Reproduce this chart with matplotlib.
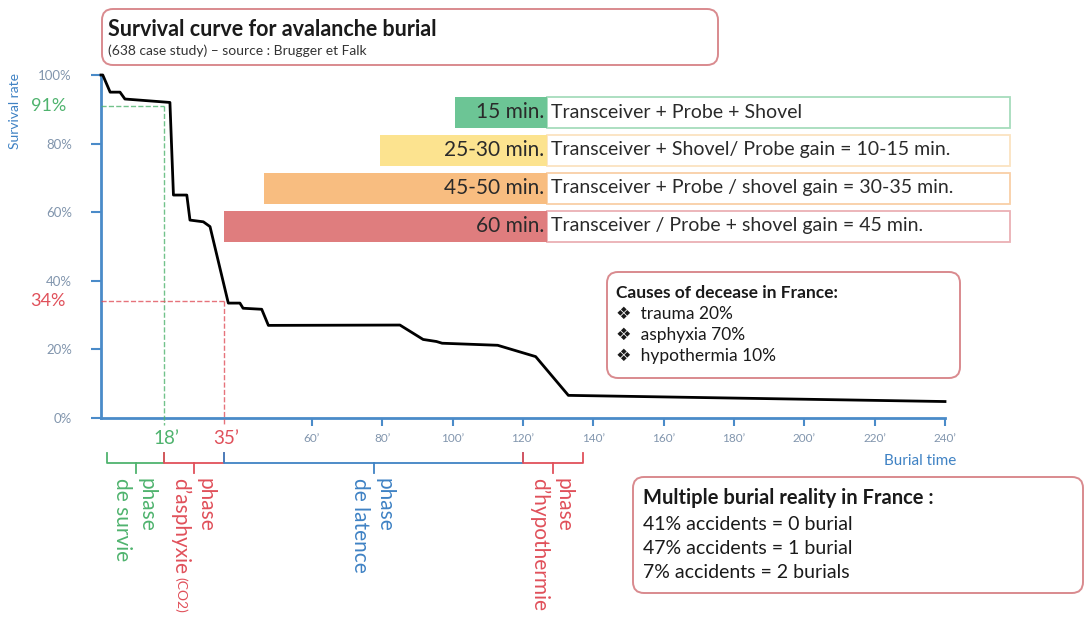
import matplotlib.pyplot as plt
from matplotlib.patches import FancyBboxPatch, Rectangle
from matplotlib.transforms import blended_transform_factory, offset_copy

plt.rcParams['font.family'] = ['Lato', 'DejaVu Sans']

# survival curve (minutes, % alive)
burial_min = [0, 0.5, 2.6, 5.4, 6.8, 19.6, 20.6, 24.4, 25.3, 29.1, 31.0, 36.2,
              39.5, 40.4, 45.7, 47.6, 85.0, 91.6, 95.4, 97.0, 112.8, 123.6, 132.9, 240]
survival_pct = [100, 100, 95, 95, 93, 92, 65, 65, 57.7, 57.2, 55.8, 33.5,
                33.5, 32.0, 31.7, 27.0, 27.1, 22.9, 22.3, 21.8, 21.2, 17.9, 6.6, 4.8]

y_ticks = [0, 20, 40, 60, 80, 100]
y_labels = ['0%', '20%', '40%', '60%', '80%', '100%']
x_ticks = [60, 80, 100, 120, 140, 160, 180, 200, 220, 240]
x_labels = ['60’', '80’', '100’', '120’', '140’', '160’', '180’', '200’', '220’', '240’']

mark_min = [18, 35]
mark_pct = [91, 34]
mark_min_labels = ['18’', '35’']
mark_pct_labels = ['91%', '34%']

phase_first = ['phase', 'phase', 'phase', 'phase']
phase_second = ['de survie', 'd’asphyxie', 'de latence', 'd’hypothermie']
phase_note = ['', '(CO2)', '', '']
phase_start = [1.7, 18, 35, 120]
phase_end = [18, 35, 120, 137]

rescue_time = ['15 min.', '25-30 min.', '45-50 min.', '60 min.']
rescue_kit = ['Transceiver + Probe + Shovel',
              'Transceiver + Shovel/ Probe gain = 10-15 min.',
              'Transceiver + Probe / shovel gain = 30-35 min.',
              'Transceiver / Probe + shovel gain = 45 min.']

causes = ['trauma 20%', 'asphyxia 70%', 'hypothermia 10%']
multi_burial = ['41% accidents = 0 burial', '47% accidents = 1 burial', '7% accidents = 2 burials']

GREEN = '#4fb36e'
RED = '#e0505a'
BLUE = '#3f82c4'
AXBLUE = '#4a8bc9'
TICKGRAY = '#8195ad'
BOXRED = '#d98a8e'

W, H = 1086, 622
L, R, T, B = 101, 945, 75, 418
fig = plt.figure(figsize=(W / 100, H / 100), dpi=100)
ax = fig.add_axes([L / W, (H - B) / H, (R - L) / W, (B - T) / H])
ax.set_facecolor('none')

def yfrac(py):
    return (B - py) / (B - T)

ax.plot(burial_min, survival_pct, color='black', lw=2, clip_on=False, zorder=5)
ax.set_xlim(0, 240)
ax.set_ylim(0, 100)
for s in ['top', 'right']:
    ax.spines[s].set_visible(False)
for s in ['left', 'bottom']:
    ax.spines[s].set_color(AXBLUE)
    ax.spines[s].set_linewidth(2)
ax.set_yticks(y_ticks)
ax.set_yticklabels(y_labels, fontsize=9.5, color=TICKGRAY)
ax.set_xticks(x_ticks)
ax.set_xticklabels(x_labels, fontsize=8.5, color=TICKGRAY)
ax.tick_params(axis='y', length=7, width=1.5, color=AXBLUE, pad=14)
ax.tick_params(axis='x', length=6, width=1.5, color=AXBLUE, pad=5)

bt = blended_transform_factory(ax.transData, ax.transAxes)

# reference lines at 18' / 35'
mark_cols = [GREEN, RED]
for t, p, tl, pl, c in zip(mark_min, mark_pct, mark_min_labels, mark_pct_labels, mark_cols):
    ax.plot([0, t], [p, p], ls='--', lw=1, color=c, alpha=0.8, zorder=3)
    ax.plot([t, t], [p, -2], ls='--', lw=1, color=c, alpha=0.8, zorder=3, clip_on=False)
    ax.text(-10, p, pl, color=c, fontsize=13, ha='right', va='center')
    ax.text(t + 0.5, yfrac(439), tl, color=c, fontsize=13.5, ha='center', va='center',
            transform=bt)

# phase brackets under the axis
phase_cols = [GREEN, RED, BLUE, RED]
right_col = offset_copy(bt, fig=fig, x=11, y=0, units='dots')
left_col = offset_copy(bt, fig=fig, x=-14, y=0, units='dots')
for n1, n2, note, a, b, c in zip(phase_first, phase_second, phase_note,
                                 phase_start, phase_end, phase_cols):
    m = (a + b) / 2
    ax.plot([a, a, b, b], [yfrac(453), yfrac(463), yfrac(463), yfrac(453)],
            color=c, lw=1.3, transform=bt, clip_on=False)
    ax.plot([m, m], [yfrac(463), yfrac(473)], color=c, lw=1.3, transform=bt, clip_on=False)
    ax.text(m, yfrac(478), n1, color=c, fontsize=15, rotation=-90, ha='center', va='top',
            transform=right_col)
    ax.text(m, yfrac(478), n2, color=c, fontsize=15, rotation=-90, ha='center', va='top',
            transform=left_col)
    if note:
        ax.text(m, yfrac(577), note, color=c, fontsize=10, rotation=-90, ha='center',
                va='top', transform=left_col)

fig.text(15 / W, 1 - 111 / H, 'Survival rate', rotation=90, color=BLUE, fontsize=10,
         ha='center', va='center')
fig.text(920 / W, 1 - 461 / H, 'Burial time', color=BLUE, fontsize=11, ha='center', va='center')

# overlay in pixel coordinates for the boxes
ov = fig.add_axes([0, 0, 1, 1])
ov.set_xlim(0, W)
ov.set_ylim(H, 0)
ov.axis('off')

def rbox(x0, y0, x1, y1, ec=BOXRED, r=11):
    ov.add_patch(FancyBboxPatch((x0, y0), x1 - x0, y1 - y0,
                                boxstyle=f'round,pad=0,rounding_size={r}',
                                fc='white', ec=ec, lw=1.4))

rbox(102, 9, 718, 65)
ov.text(108, 29, 'Survival curve for avalanche burial', fontsize=15.5, fontweight='bold',
        color='#1a1a1a', va='center')
ov.text(108, 51, '(638 case study) – source : Brugger et Falk', fontsize=10,
        color='#333333', va='center')

row_y = [112, 150, 188, 226]
row_left = [455, 380, 264, 224]
row_fill = ['#6cc595', '#fce38f', '#f8bd80', '#df7d7e']
row_edge = ['#a6dcbc', '#fbe3c0', '#f9cfa6', '#ebb0b4']
for ty, kit, y, x0, fc, ec in zip(rescue_time, rescue_kit, row_y, row_left, row_fill, row_edge):
    ov.add_patch(Rectangle((547, y - 15.5), 1010 - 547, 31, fc='white', ec=ec, lw=1.3))
    ov.add_patch(Rectangle((x0, y - 15.5), 547 - x0, 31, fc=fc, ec='none'))
    ov.text(544, y, ty, fontsize=15, ha='right', va='center', color='#2a2a2a')
    ov.text(551, y, kit, fontsize=14, ha='left', va='center', color='#2a2a2a')

rbox(607, 272, 960, 378)
ov.text(616, 293, 'Causes of decease in France:', fontsize=12.5, fontweight='bold',
        color='#1a1a1a', va='center')
for i, c in enumerate(causes):
    ov.text(616, 314 + i * 21, '❖  ' + c, fontsize=12.5, color='#1a1a1a', va='center')

rbox(633, 477, 1083, 593)
ov.text(643, 498, 'Multiple burial reality in France :', fontsize=14.5, fontweight='bold',
        color='#1a1a1a', va='center')
for i, m in enumerate(multi_burial):
    ov.text(643, 524 + i * 24.5, m, fontsize=14, color='#1a1a1a', va='center')

fig.savefig('out.png', dpi=100)
